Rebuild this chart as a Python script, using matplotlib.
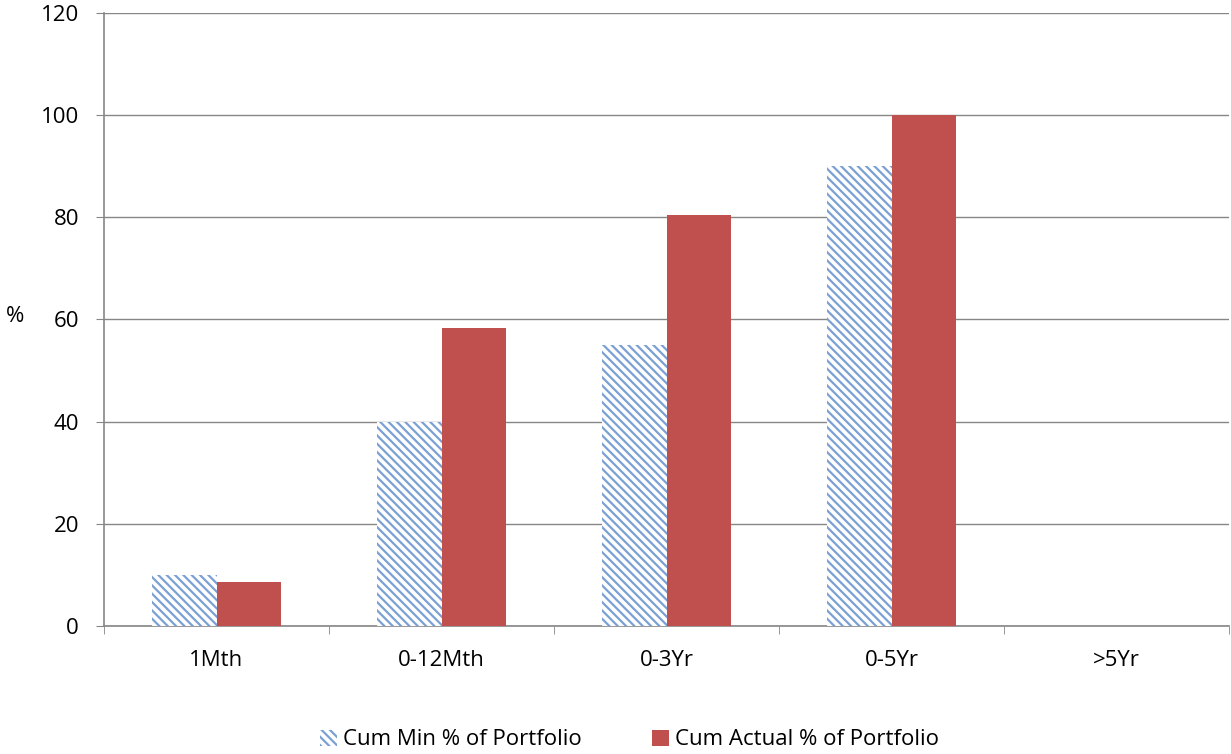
import numpy as np
from matplotlib import pyplot as plt

categories = ['1Mth', '0-12Mth', '0-3Yr', '0-5Yr', '>5Yr']
cum_min = [10, 40, 55, 90, 0]
cum_actual = [8.6, 58.3, 80.5, 100, 0]

plt.rcParams['font.family'] = ['Open Sans', 'DejaVu Sans']
plt.rcParams['hatch.linewidth'] = 1.6

fig = plt.figure(figsize=(12.31, 7.54), dpi=100)
ax = fig.add_axes([0.0845, 0.1698, 0.914, 0.813])

x = np.arange(len(categories))
w = 0.286
ax.bar(x - w / 2, cum_min, w, color='white', edgecolor='#7aa0d4', linewidth=0,
       hatch='\\\\\\\\', label='Cum Min % of Portfolio', zorder=3)
ax.bar(x + w / 2, cum_actual, w, color='#C0504D', label='Cum Actual % of Portfolio', zorder=3)

ax.set_xlim(-0.5, len(categories) - 0.5)
ax.set_ylim(0, 120)
ax.set_yticks(range(0, 121, 20))
ax.set_xticks(x)
ax.set_xticklabels(categories)
ax.set_xticks(np.arange(-0.5, len(categories), 1), minor=True)
ax.tick_params(axis='x', which='major', length=0, pad=17, labelsize=16)
ax.tick_params(axis='x', which='minor', length=6, color='#868686')
ax.tick_params(axis='y', length=6, color='#868686', labelsize=16, pad=12)
ax.grid(axis='y', color='#868686', linewidth=1, zorder=0)

for s in ['top', 'right']:
    ax.spines[s].set_visible(False)
for s in ['left', 'bottom']:
    ax.spines[s].set_color('#868686')
    ax.spines[s].set_linewidth(1.2)

fig.text(15 / 1231, 1 - 316 / 754, '%', fontsize=16, ha='center', va='center')

ax.legend(loc='center', bbox_to_anchor=(0.467, -0.186), ncol=2, frameon=False,
          fontsize=16, handlelength=0.75, handleheight=0.75, handletextpad=0.25,
          columnspacing=3.2)

plt.savefig('out.png')
